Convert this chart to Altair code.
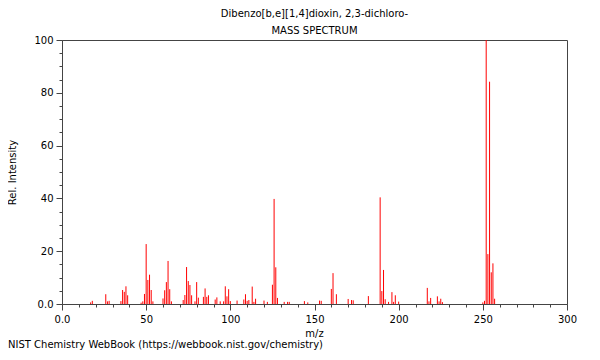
import altair as alt
import pandas as pd

# ---- data ----
mz = [17, 18, 26, 27, 28, 35, 36, 37, 38, 39, 47, 48, 49, 50, 51, 52, 53, 54,
      60, 61, 62, 63, 64, 65, 72, 73, 74, 75, 76, 77, 79, 80, 81, 84, 85, 86, 87,
      91, 92, 94, 96, 97, 98, 99, 100, 104, 108, 109, 110, 111, 113, 114, 115,
      120, 122, 125, 126, 127, 128, 132, 134, 135, 144, 146, 153, 154,
      160, 161, 163, 170, 172, 173, 182, 189, 190, 191, 192, 194, 196, 197, 198,
      200, 217, 218, 219, 223, 224, 225, 226, 250, 251, 252, 253, 254, 255, 256, 257]
intensity = [0.6, 1.2, 3.7, 1.0, 1.2, 1.1, 5.3, 4.6, 6.7, 3.3, 0.5, 1.0, 3.8, 22.7, 9.1, 11.1, 5.3, 1.0,
             2.1, 5.2, 8.3, 16.3, 5.6, 1.0, 1.5, 3.4, 14.0, 8.7, 7.2, 3.3, 1.0, 8.3, 2.4, 2.7, 5.9, 2.7, 3.3,
             1.7, 2.5, 1.0, 1.0, 6.7, 2.9, 5.6, 1.1, 1.3, 1.7, 3.7, 1.2, 1.5, 6.6, 0.8, 2.0,
             1.3, 0.8, 7.3, 39.8, 13.9, 2.3, 0.8, 0.8, 0.8, 1.1, 0.6, 1.3, 1.2,
             5.7, 11.7, 3.7, 1.9, 1.5, 1.4, 3.0, 40.4, 4.9, 12.9, 1.8, 0.8, 4.5, 0.8, 3.3,
             0.9, 6.1, 1.0, 2.3, 2.9, 1.0, 2.0, 0.7, 0.6, 1.2, 100.0, 18.9, 84.2, 12.0, 15.4, 2.0]

title_lines = ["Dibenzo[b,e][1,4]dioxin, 2,3-dichloro-", "MASS SPECTRUM"]
footer_text = ["NIST Chemistry WebBook (https://webbook.nist.gov/chemistry)"]
x_ticks = list(range(0, 301, 10))
y_ticks = list(range(0, 101, 5))

df = pd.DataFrame({"mz": mz, "intensity": intensity})
foot_df = pd.DataFrame({"t": footer_text})

FONT = "DejaVu Sans"
AX = "#444444"

x_axis = alt.Axis(
    values=x_ticks,
    format="d",
    labelExpr="datum.value % 50 == 0 ? (datum.value == 0 ? '0.0' : datum.label) : ''",
    tickSize={"condition": {"test": "datum.value % 50 == 0", "value": 6}, "value": 3},
    labelOverlap=False,
    labelFlush=False,
    grid=False,
    domainColor=AX,
    tickColor=AX,
    labelFont=FONT,
    labelFontSize=10,
    labelColor="black",
    labelPadding=4,
    title="m/z",
    titleFont=FONT,
    titleFontSize=10,
    titleFontWeight="normal",
    titleColor="black",
    titleX=252,
    titleY=29,
    titleBaseline="middle",
)

y_axis = alt.Axis(
    values=y_ticks,
    format="d",
    labelExpr="datum.value % 20 == 0 ? (datum.value == 0 ? '0.0' : datum.label) : ''",
    tickSize={"condition": {"test": "datum.value % 20 == 0", "value": 6}, "value": 3},
    labelOverlap=False,
    labelFlush=False,
    grid=False,
    domainColor=AX,
    tickColor=AX,
    labelFont=FONT,
    labelFontSize=10,
    labelColor="black",
    labelPadding=3,
    title="Rel. Intensity",
    titleFont=FONT,
    titleFontSize=10,
    titleFontWeight="normal",
    titleColor="black",
    titleX=-50,
    titleY=132,
    titleAngle=-90,
    titleAlign="center",
    titleBaseline="middle",
)

bars = alt.Chart(df).mark_rule(color="#ff0000", strokeWidth=1).encode(
    x=alt.X("mz:Q", scale=alt.Scale(domain=[0, 300], nice=False, zero=False), axis=x_axis),
    y=alt.Y("intensity:Q", scale=alt.Scale(domain=[0, 100], nice=False), axis=y_axis),
    y2=alt.datum(0),
)

footer = alt.Chart(foot_df).mark_text(
    align="left", baseline="middle", font=FONT, fontSize=10, color="black"
).encode(x=alt.value(-54), y=alt.value(305), text="t:N")

chart = alt.layer(bars, footer).properties(
    width=505,
    height=264,
    title=alt.TitleParams(
        text=title_lines,
        font=FONT,
        fontSize=10,
        fontWeight="normal",
        color="black",
        anchor="middle",
        offset=-1,
        lineHeight=17,
    ),
    autosize=alt.AutoSizeParams(type="none"),
    padding={"left": 54, "top": 32, "right": 25, "bottom": 48},
).configure_view(stroke=AX, strokeWidth=1)

chart.save("out.html", embed_options={"renderer": "svg", "actions": False})
